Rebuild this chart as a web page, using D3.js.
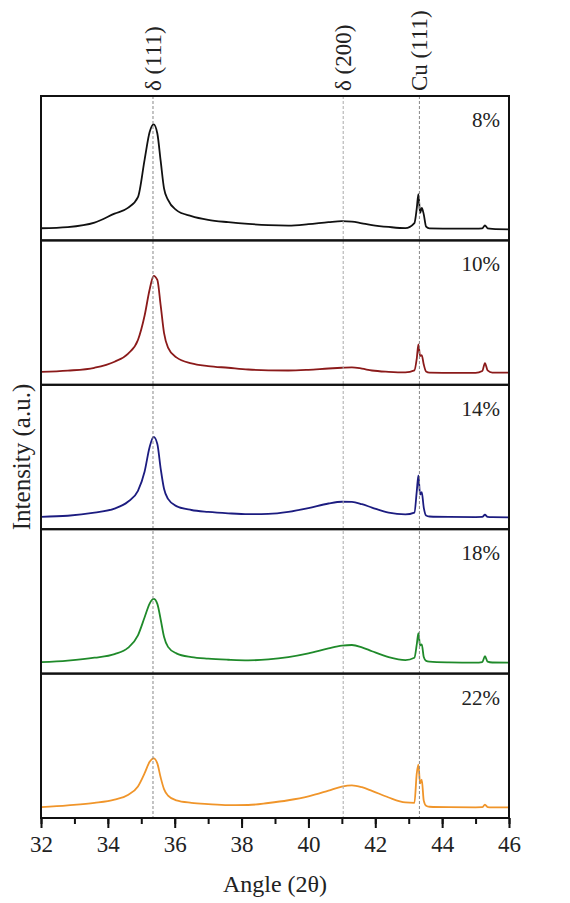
<!DOCTYPE html>
<meta charset="utf-8">
<head>
	<style>
		body {
			margin: 0;
			background: white;
			font-family: "Liberation Serif", "Times New Roman", serif;
		}
		svg text {
			fill: #222;
		}
	</style>
	<script src="https://cdn.jsdelivr.net/npm/d3@7"></script>
</head>
<body>
	<svg id="xrd"></svg>
</body>
<script>

	// shared 2θ sample positions (deg)
	let angles = [32, 32.8, 33.6, 34.2, 34.6, 34.9, 35.1, 35.25, 35.37, 35.48, 35.58, 35.68, 35.8, 36.05, 36.5,
		37.0, 37.6, 38.2, 38.8, 39.4, 40.0, 40.6, 41.0, 41.3, 41.6, 41.9, 42.4, 42.9,
		43.17, 43.24, 43.29, 43.34, 43.39, 43.45, 43.52, 43.62, 44.2, 45.0, 45.2, 45.28, 45.36, 45.5, 46]

	// intensities (a.u., 0-100 per panel)
	let s8 = [8.4, 9.2, 12.3, 18.5, 22.5, 30, 56, 75, 80.3, 74, 55, 36, 28, 21, 16.8,
		14.2, 12.6, 11.4, 10.6, 10.3, 11.2, 12.6, 13.3, 13.0, 11.8, 10.6, 9.3, 8.5,
		12, 22, 32, 19, 22.5, 18, 9.5, 8.3, 8.2, 8.1, 8.3, 10.4, 8.4, 8.0, 7.7]
	let s10 = [8.9, 9.8, 11.8, 16, 21.5, 31, 48, 66, 75.5, 72.6, 55, 36, 25.8, 19, 14.8,
		13.0, 11.8, 10.6, 10.0, 9.9, 10.4, 11.3, 11.8, 12.1, 11.2, 9.9, 9.0, 8.6,
		10, 18, 28, 20, 20.6, 14, 9.2, 8.4, 8.3, 8.2, 9.5, 15, 10, 8.5, 8.4]
	let s14 = [8.6, 9.3, 11.5, 14.3, 19, 26.5, 40, 57, 63.9, 59, 42, 28, 21, 16, 13.3,
		12.0, 11.0, 10.4, 10.6, 12.0, 14.6, 17.8, 19.0, 18.9, 17.3, 15, 11.4, 10.2,
		11.5, 26, 37.3, 24, 25.6, 15, 9.5, 8.8, 8.5, 8.4, 8.5, 10, 8.5, 8.3, 8.2]
	let s18 = [7.9, 9.0, 11, 13.5, 17.8, 26.5, 39, 48.5, 51.7, 48.3, 37.5, 25.5, 18.5, 14, 11.4,
		10.3, 9.6, 9.2, 9.8, 11.4, 14, 17.4, 19.3, 19.8, 18.2, 15.5, 11.4, 9.4,
		11, 20, 28, 19.5, 20.3, 11.5, 8.8, 8.3, 7.8, 7.6, 8.0, 12, 8.3, 7.7, 7.6]
	let s22 = [7.5, 8.8, 10.5, 12.8, 16, 21.8, 31, 38.9, 41.3, 37.8, 28, 20, 15.5, 12.2, 10.5,
		9.6, 8.9, 9.0, 10.4, 12.3, 15, 19, 21.8, 22.6, 21.3, 18.8, 14.2, 10.8,
		10.5, 30.8, 37, 24, 26.6, 12, 8.5, 7.8, 7.5, 7.4, 7.5, 9.2, 7.6, 7.4, 7.3]

	let seriesNames = ["8%", "10%", "14%", "18%", "22%"]
	let seriesColors = ["#111111", "#8b1a1a", "#1c1c80", "#1f8a2a", "#f0952a"]

	let peakNames = ["δ (111)", "δ (200)", "Cu (111)"]
	let peakAngles = [35.35, 41.04, 43.32]

	let xTicks = [32, 34, 36, 38, 40, 42, 44, 46]

	function getConfig() {
		let width = 570
		let height = 903
		let margin = { top: 96, bottom: 85, left: 41, right: 61 }
		let bodyWidth = width - margin.left - margin.right
		let bodyHeight = height - margin.top - margin.bottom
		let container = d3.select("#xrd")
			.attr("width", width)
			.attr("height", height)
		return { width, height, margin, bodyWidth, bodyHeight, container }
	}

	function getScales(config) {
		let { bodyWidth, bodyHeight } = config
		let xScale = d3.scaleLinear()
			.domain([32, 46])
			.range([0, bodyWidth])
		let panel = d3.scaleBand()
			.domain(seriesNames)
			.range([0, bodyHeight])
		let yScale = d3.scaleLinear()
			.domain([0, 100])
			.range([panel.bandwidth(), 0])
		return { xScale, panel, yScale }
	}

	function drawPanels(config, scales) {
		let { margin, container, bodyWidth } = config
		let { xScale, panel, yScale } = scales
		let all = [s8, s10, s14, s18, s22]

		let body = container.append("g")
			.attr("transform", `translate(${margin.left},${margin.top})`)

		let line = d3.line()
			.x((d, i) => xScale(angles[i]))
			.y(d => yScale(d))
			.curve(d3.curveMonotoneX)

		seriesNames.forEach((name, k) => {
			let g = body.append("g")
				.attr("transform", `translate(0,${panel(name)})`)

			g.append("path")
				.datum(all[k])
				.attr("d", line)
				.attr("fill", "none")
				.attr("stroke", seriesColors[k])
				.attr("stroke-width", 1.8)
				.attr("stroke-linejoin", "round")

			g.append("text")
				.attr("x", bodyWidth - 9)
				.attr("y", 31)
				.attr("text-anchor", "end")
				.attr("font-size", "21px")
				.text(name)
		})

		// dashed reference lines for the reflections
		body.selectAll(".ref")
			.data(peakAngles)
			.enter()
			.append("line")
			.attr("x1", d => xScale(d))
			.attr("x2", d => xScale(d))
			.attr("y1", 0)
			.attr("y2", config.bodyHeight)
			.attr("stroke", (d, i) => i == 1 ? "#aaaaaa" : "#888888")
			.attr("stroke-width", 1)
			.attr("stroke-dasharray", "3,2")

		body.selectAll(".peaklabel")
			.data(peakNames)
			.enter()
			.append("text")
			.attr("transform", (d, i) => `translate(${xScale(peakAngles[i]) + 8},-5) rotate(-90)`)
			.attr("font-size", "23px")
			.text(d => d)

		// panel frames
		seriesNames.forEach(name => {
			body.append("rect")
				.attr("x", 0)
				.attr("y", panel(name))
				.attr("width", bodyWidth)
				.attr("height", panel.bandwidth())
				.attr("fill", "none")
				.attr("stroke", "#111")
				.attr("stroke-width", 2)
		})
	}

	function drawAxes(config, scales) {
		let { margin, container, height, bodyWidth, bodyHeight } = config
		let { xScale } = scales

		let axisX = d3.axisBottom(xScale)
			.tickValues(d3.range(32, 46.5, 1))
			.tickSize(6)
			.tickFormat("")
		container.append("g")
			.attr("transform", `translate(${margin.left},${margin.top + bodyHeight})`)
			.call(axisX)
			.call(g => g.select(".domain").remove())
			.call(g => g.selectAll("line").attr("stroke", "#111").attr("stroke-width", 2))

		let axisMajor = d3.axisBottom(xScale)
			.tickValues(xTicks)
			.tickSize(10)
			.tickPadding(8)
		container.append("g")
			.attr("transform", `translate(${margin.left},${margin.top + bodyHeight})`)
			.call(axisMajor)
			.call(g => g.select(".domain").remove())
			.call(g => g.selectAll("line").attr("stroke", "#111").attr("stroke-width", 2))
			.call(g => g.selectAll("text")
				.attr("font-family", "Liberation Serif, serif")
				.attr("font-size", "23px")
				.attr("fill", "#222"))

		container.append("text")
			.attr("x", margin.left + bodyWidth / 2)
			.attr("y", height - 11)
			.attr("text-anchor", "middle")
			.attr("font-size", "24px")
			.text("Angle (2θ)")

		container.append("text")
			.attr("transform", `translate(30,${margin.top + bodyHeight / 2}) rotate(-90)`)
			.attr("text-anchor", "middle")
			.attr("font-size", "25px")
			.text("Intensity (a.u.)")
	}

	let config = getConfig()
	let scales = getScales(config)
	drawPanels(config, scales)
	drawAxes(config, scales)

</script>
